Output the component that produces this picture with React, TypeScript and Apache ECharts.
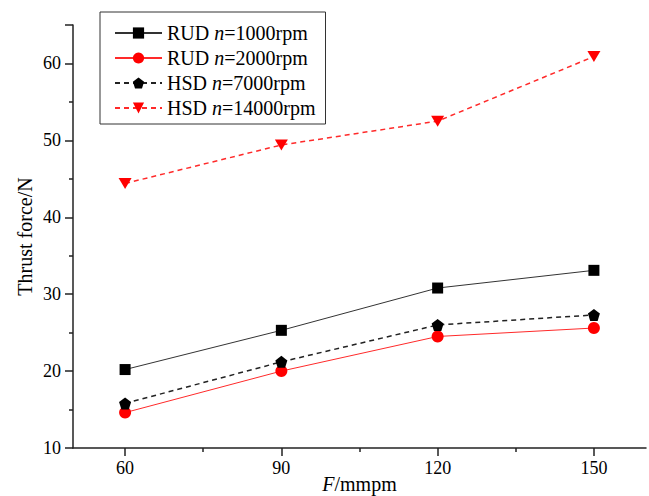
import React, { useEffect, useRef } from "react";
import * as echarts from "echarts";

const feedRates = [60, 90, 120, 150];
const xMajorTicks = [60, 90, 120, 150];
const xMinorTicks = [75, 105, 135];
const rud1000 = [20.2, 25.3, 30.8, 33.1];
const rud2000 = [14.6, 20.0, 24.5, 25.6];
const hsd7000 = [15.8, 21.2, 26.0, 27.3];
const hsd14000 = [44.4, 49.4, 52.5, 60.9];
const seriesNames = ["RUD n=1000rpm", "RUD n=2000rpm", "HSD n=7000rpm", "HSD n=14000rpm"];

const FONT = "Liberation Serif";
const pentagon = "path://M0,-1 L0.951,-0.309 L0.588,0.809 L-0.588,0.809 L-0.951,-0.309 Z";

const pairs = (ys: number[]) => feedRates.map((x, i) => [x, ys[i]]);

export default function App() {
  const ref = useRef<HTMLDivElement>(null);
  useEffect(() => {
    document.body.style.margin = "0";
    const chart = echarts.init(ref.current!, null, { renderer: "svg" });
    const axisColor = "#222";
    chart.setOption({
      animation: false,
      backgroundColor: "#fff",
      grid: { left: 73, right: 3, top: 25, bottom: 48, containLabel: false, outerBoundsMode: "none" },
      legend: {
        orient: "vertical",
        left: 100,
        top: 12,
        width: 228,
        padding: [11, 10, 6, 14],
        borderColor: "#333",
        borderWidth: 1,
        itemWidth: 47,
        itemHeight: 14,
        itemGap: 5,
        data: seriesNames,
        formatter: (name: string) => {
          const [a, b] = name.split(" n=");
          return `{a|${a} }{i|n}{a|=${b}}`;
        },
        textStyle: {
          fontFamily: FONT,
          fontSize: 20,
          color: "#000",
          rich: {
            a: { fontFamily: FONT, fontSize: 20, color: "#000", lineHeight: 20 },
            i: { fontFamily: FONT, fontSize: 20, color: "#000", fontStyle: "italic", lineHeight: 20 },
          },
        },
      },
      xAxis: [
        {
          type: "value",
          min: 50,
          max: 160,
          position: "bottom",
          name: "{i|F}{a|/mmpm}",
          nameLocation: "middle",
          nameGap: 26,
          nameMoveOverlap: false,
          nameTextStyle: {
            rich: {
              i: { fontFamily: FONT, fontSize: 20, fontStyle: "italic", color: "#000", lineHeight: 20 },
              a: { fontFamily: FONT, fontSize: 20, color: "#000", lineHeight: 20 },
            },
          },
          axisLine: { show: true, lineStyle: { color: axisColor, width: 1.5 } },
          axisTick: { show: true, customValues: xMajorTicks, length: 8, lineStyle: { color: axisColor, width: 1.5 } },
          axisLabel: { customValues: xMajorTicks, margin: 11, fontFamily: FONT, fontSize: 18, color: "#000" },
          splitLine: { show: false },
        },
        {
          type: "value",
          min: 50,
          max: 160,
          position: "bottom",
          axisLine: { show: false },
          axisTick: { show: true, customValues: xMinorTicks, length: 4, lineStyle: { color: axisColor, width: 1.5 } },
          axisLabel: { show: false },
          splitLine: { show: false },
        },
      ],
      yAxis: {
        type: "value",
        min: 10,
        max: 65,
        interval: 10,
        name: "Thrust force/N",
        nameLocation: "middle",
        nameGap: 38,
        nameMoveOverlap: false,
        nameTextStyle: { fontFamily: FONT, fontSize: 20, color: "#000" },
        axisLine: { show: true, lineStyle: { color: axisColor, width: 1.5 } },
        axisTick: { show: true, length: 8, lineStyle: { color: axisColor, width: 1.5 } },
        minorTick: { show: true, splitNumber: 2, length: 4, lineStyle: { color: axisColor, width: 1.5 } },
        axisLabel: { margin: 12, fontFamily: FONT, fontSize: 18, color: "#000", showMaxLabel: false },
        splitLine: { show: false },
      },
      series: [
        {
          name: seriesNames[0],
          type: "line",
          data: pairs(rud1000),
          symbol: "rect",
          symbolSize: 11,
          itemStyle: { color: "#000" },
          lineStyle: { color: "#333", width: 1 },
        },
        {
          name: seriesNames[1],
          type: "line",
          data: pairs(rud2000),
          symbol: "circle",
          symbolSize: 12,
          itemStyle: { color: "#ff0000" },
          lineStyle: { color: "#ff2a2a", width: 1 },
        },
        {
          name: seriesNames[2],
          type: "line",
          data: pairs(hsd7000),
          symbol: pentagon,
          symbolSize: 12,
          itemStyle: { color: "#000" },
          lineStyle: { color: "#222", width: 1.5, type: [5, 4] },
        },
        {
          name: seriesNames[3],
          type: "line",
          data: pairs(hsd14000),
          symbol: "triangle",
          symbolRotate: 180,
          symbolSize: [13, 11],
          itemStyle: { color: "#ff0000" },
          lineStyle: { color: "#ff2a2a", width: 1.5, type: [5, 4] },
        },
      ],
    });
    return () => chart.dispose();
  }, []);
  return <div ref={ref} style={{ width: 649, height: 496 }} />;
}
